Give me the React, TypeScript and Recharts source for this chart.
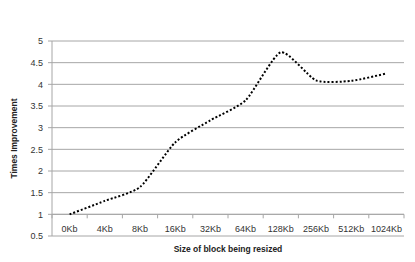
import { LineChart, Line, XAxis, YAxis, CartesianGrid, ReferenceLine, Label } from "recharts"

const blockSizes = ["0Kb", "4Kb", "8Kb", "16Kb", "32Kb", "64Kb", "128Kb", "256Kb", "512Kb", "1024Kb"]
const improvement = [1, 1.31, 1.63, 2.66, 3.17, 3.63, 4.74, 4.09, 4.08, 4.25]
const yTicks = [0.5, 1, 1.5, 2, 2.5, 3, 3.5, 4, 4.5, 5]

const data = blockSizes.map((size, i) => ({ size, value: improvement[i] }))

const FONT = "'Liberation Sans', Arial, sans-serif"
const GRID = "#a6a6a6"
const TENSION = 1 / 10

// lightly smoothed line (cardinal spline), close to the Excel look
const softCurve = (ctx: any) => {
  let pts: number[][] = []
  return {
    areaStart() {},
    areaEnd() {},
    lineStart() { pts = [] },
    point(x: number, y: number) { pts.push([x, y]) },
    lineEnd() {
      if (!pts.length) return
      ctx.moveTo(pts[0][0], pts[0][1])
      for (let i = 0; i < pts.length - 1; i++) {
        const p0 = pts[i - 1] || pts[i]
        const p1 = pts[i]
        const p2 = pts[i + 1]
        const p3 = pts[i + 2] || p2
        ctx.bezierCurveTo(
          p1[0] + (p2[0] - p0[0]) * TENSION, p1[1] + (p2[1] - p0[1]) * TENSION,
          p2[0] - (p3[0] - p1[0]) * TENSION, p2[1] - (p3[1] - p1[1]) * TENSION,
          p2[0], p2[1]
        )
      }
    },
  }
}

// category labels sit just above the bottom gridline, like Excel does it
const CategoryTick = (props: any) => {
  const { x, y, payload } = props
  return (
    <text x={x} y={y - 4} textAnchor="middle" fontSize={9} fill="#333" fontFamily={FONT}>
      {payload.value}
    </text>
  )
}

// the axis crossing at 1, with tick marks between the categories
const CrossingAxis = (props: any) => {
  const { x1, y1, x2 } = props
  const n = blockSizes.length
  const step = (x2 - x1) / n
  return (
    <g>
      <line x1={x1} y1={y1} x2={x2} y2={y1} stroke={GRID} strokeWidth={1} />
      {Array.from({ length: n + 1 }).map((_, i) => (
        <line key={i} x1={x1 + i * step} y1={y1} x2={x1 + i * step} y2={y1 + 4} stroke={GRID} strokeWidth={1} />
      ))}
    </g>
  )
}

export default function App() {
  return (
    <div style={{ position: "absolute", left: 0, top: 0, width: 415, height: 262, background: "#fff" }}>
      <LineChart width={415} height={262} data={data} margin={{ top: 41, right: 11, left: 0, bottom: 0 }}>
        <CartesianGrid vertical={false} stroke={GRID} strokeWidth={1} />
        <XAxis
          dataKey="size"
          scale="band"
          height={26}
          axisLine={false}
          tickLine={false}
          tickSize={0}
          tickMargin={0}
          interval={0}
          tick={<CategoryTick />}
        >
          <Label
            value="Size of block  being resized"
            position="insideBottom"
            offset={10}
            style={{ fontSize: 8.5, fontWeight: "bold", fill: "#222", fontFamily: FONT, whiteSpace: "pre" }}
          />
        </XAxis>
        <YAxis
          domain={[0.5, 5]}
          ticks={yTicks}
          width={52}
          interval={0}
          axisLine={{ stroke: GRID }}
          tickLine={{ stroke: GRID }}
          tickSize={4}
          tickMargin={5}
          tick={{ fontSize: 9, fill: "#333", fontFamily: FONT }}
        >
          <Label
            value="Times Improvement"
            angle={-90}
            position="insideLeft"
            offset={14}
            style={{ textAnchor: "middle", fontSize: 8.5, fontWeight: "bold", fill: "#222", fontFamily: FONT }}
          />
        </YAxis>
        <ReferenceLine y={1} shape={<CrossingAxis />} />
        <Line
          type={softCurve as any}
          dataKey="value"
          stroke="#000"
          strokeWidth={2}
          strokeDasharray="2 2"
          dot={false}
          isAnimationActive={false}
        />
      </LineChart>
    </div>
  )
}
